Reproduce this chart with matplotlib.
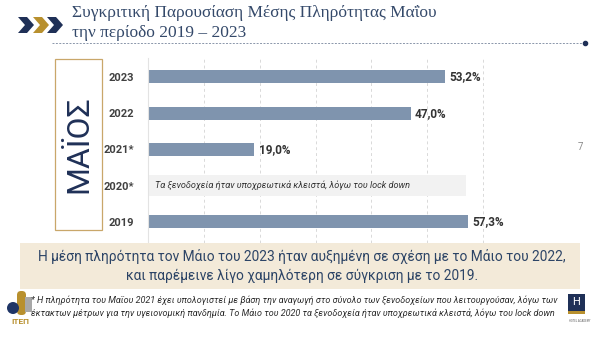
import matplotlib.pyplot as plt
from matplotlib.patches import Rectangle, Polygon, Circle, FancyBboxPatch

# data
years = ['2019', '2020*', '2021*', '2022', '2023']
occupancy = [57.3, 0, 19.0, 47.0, 53.2]
value_labels = ['57,3%', '', '19,0%', '47,0%', '53,2%']
closed_year = '2020*'
closed_note = 'Τα ξενοδοχεία ήταν υποχρεωτικά κλειστά, λόγω του lock down'
note_width = 57
grid_ticks = [10, 20, 30, 40, 50, 60, 70]

title_lines = ['Συγκριτική Παρουσίαση Μέσης Πληρότητας Μαΐου',
               'την περίοδο 2019 – 2023']
month_label = 'ΜΑΪΟΣ'
summary = ('Η μέση πληρότητα τον Μάιο του 2023 ήταν αυξημένη σε σχέση με το Μάιο του 2022,\n'
           'και παρέμεινε λίγο χαμηλότερη σε σύγκριση με το 2019.')
footnote = ('* Η πληρότητα του Μαΐου 2021 έχει υπολογιστεί με βάση την αναγωγή στο σύνολο των ξενοδοχείων που λειτουργούσαν, λόγω των\n'
            'έκτακτων μέτρων για την υγειονομική πανδημία. Το Μάιο του 2020 τα ξενοδοχεία ήταν υποχρεωτικά κλειστά, λόγω του lock down')

SANS = ['Roboto', 'DejaVu Sans']
SERIF = ['Liberation Serif', 'DejaVu Serif']
NAVY = '#1f3057'
GOLD = '#b8902e'
BAR = '#7f94ae'

W, H = 600, 343
fig = plt.figure(figsize=(6, 3.43), dpi=100)

# main bar chart
ax = fig.add_axes([148 / W, 1 - 243 / H, (539 - 148) / W, (243 - 58) / H])
ypos = list(range(len(years)))
for y, yr, v, lab in zip(ypos, years, occupancy, value_labels):
    if yr == closed_year:
        ax.barh(y, note_width, height=0.58, color='#f2f2f2', zorder=2)
        ax.text(1.3, y, closed_note, va='center', ha='left', fontsize=6.6,
                style='italic', color='#333333', family=SANS, zorder=3)
    else:
        ax.barh(y, v, height=0.36, color=BAR, zorder=2)
        ax.text(v + 0.8, y, lab, va='center', ha='left', fontsize=8.5,
                fontweight='bold', color='#333333', family=SANS)

ax.set_xlim(0, 70)
ax.set_ylim(-0.58, 4.52)
ax.set_yticks(ypos)
ax.set_yticklabels(years, fontsize=8, fontweight='bold', color='#404040', family=SANS)
ax.set_xticks(grid_ticks)
ax.tick_params(axis='x', length=0, labelbottom=False)
ax.tick_params(axis='y', length=0, pad=10)
ax.grid(axis='x', color='#d9d9d9', linestyle=(0, (3, 3)), linewidth=0.7, zorder=0)
for s in ['top', 'right', 'bottom']:
    ax.spines[s].set_visible(False)
ax.spines['left'].set_color('#e3e3e3')
ax.spines['left'].set_linewidth(0.8)

# overlay for slide decorations (pixel coords)
ov = fig.add_axes([0, 0, 1, 1], zorder=5)
ov.set_xlim(0, W)
ov.set_ylim(H, 0)
ov.axis('off')
ov.patch.set_alpha(0)

# chevrons
for x0, col in [(18, NAVY), (33, GOLD), (47, NAVY)]:
    ov.add_patch(Polygon([(x0, 17), (x0 + 9, 17), (x0 + 16, 25), (x0 + 9, 33),
                          (x0, 33), (x0 + 7, 25)], closed=True, color=col, lw=0))

# title
ov.text(72, 13, title_lines[0], fontsize=12.5, color='#34496a', family=SERIF, va='center')
ov.text(72, 33, title_lines[1], fontsize=12.5, color='#34496a', family=SERIF, va='center')
ov.plot([52, 584], [43, 43], color='#8a96aa', lw=0.7, linestyle=(0, (2, 1.5)))
ov.plot([585], [43], marker='o', ms=3, color=NAVY)

# month box
ov.add_patch(Rectangle((55, 59), 47, 171, fill=False, ec='#c9a76a', lw=0.9))
ov.text(79, 144, month_label, rotation=90, ha='center', va='center', fontsize=23,
        color=NAVY, family=SANS)

# page number
ov.text(580, 147, '7', fontsize=7, color='#8c8c8c', ha='center', va='center', family=SANS)

# summary box
ov.add_patch(Rectangle((20, 243), 560, 46, color='#f3ead9', lw=0))
ov.text(302, 266, summary, ha='center', va='center', fontsize=9.9, color='#2c4466',
        family=SANS, linespacing=1.5)

# footnote
ov.text(31, 307, footnote, ha='left', va='center', fontsize=6.5, style='italic',
        color='#2b2b2b', family=SANS, linespacing=1.45)

# ITEP logo
ov.add_patch(FancyBboxPatch((17, 291), 9, 24, boxstyle='round,pad=0,rounding_size=4',
                            color=GOLD, lw=0))
ov.add_patch(Circle((13, 308), 6, color='#1f3566', lw=0))
ov.add_patch(Rectangle((25, 297), 7, 15, color='#a8a8a8', lw=0))
ov.text(20, 322, 'ΙΤΕΠ', fontsize=6, fontweight='bold', color=GOLD, ha='center',
        va='center', family=SANS)

# H logo
ov.add_patch(Rectangle((568, 294), 17, 17, color=NAVY, lw=0))
ov.add_patch(Rectangle((568, 311), 17, 3, color=GOLD, lw=0))
ov.text(576.5, 302, 'H', fontsize=8, color='white', ha='center', va='center', family=SANS)
ov.text(580, 321, 'HOTEL ACADEMY', fontsize=1.8, color='#555555', ha='center', va='center')

fig.savefig('out.png', dpi=100, facecolor='white')
